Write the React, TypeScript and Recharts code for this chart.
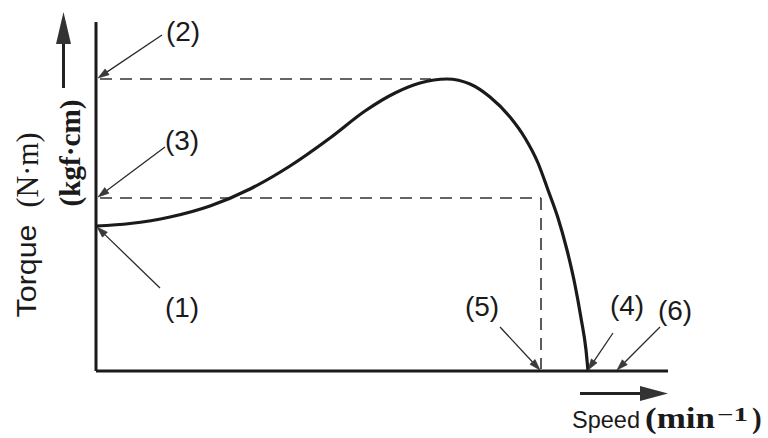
import React from 'react';
import { LineChart, Line, XAxis, YAxis, ReferenceLine, ReferenceDot } from 'recharts';

// Torque–speed curve (arbitrary units)
const speedValues = [0, 34, 74, 114, 154, 194, 234, 269, 299, 324, 351, 374, 394, 414, 429, 442, 452, 462, 471, 479, 485, 490, 492];
const torqueValues = [145, 147.5, 154, 165, 182, 205, 233, 260, 278, 288, 292, 287, 274, 254, 233, 208, 181, 153, 121, 86, 53, 21, 0];

// Characteristic points
const startingTorque = 145; // (1)
const maxTorque = 292; // (2)
const ratedTorque = 173; // (3)
const maxTorqueSpeed = 351;
const ratedSpeed = 445; // (5)
const noLoadSpeed = 492; // (4)
const syncSpeed = 521; // (6)

// Annotation labels
const labelNames = ['(1)', '(2)', '(3)', '(4)', '(5)', '(6)'];
const labelSpeeds = [86, 87, 86, 531, 386, 579];
const labelTorques = [64, 340, 231, 66, 65, 61];

// Leader arrows: start (near label) -> tip (on the curve / axis)
const arrowStartSpeeds = [64, 66, 69, 517, 404, 564];
const arrowStartTorques = [83, 336, 224, 38, 44, 44];
const arrowTipSpeeds = [1, 2, 2, noLoadSpeed, ratedSpeed - 1, syncSpeed];
const arrowTipTorques = [startingTorque - 1, maxTorque + 1, ratedTorque + 1, 1, 1, 1];

const data = speedValues.map((s, i) => ({ speed: s, torque: torqueValues[i] }));

const ArrowShape = (props: any) => {
  const { x1, y1, x2, y2 } = props;
  const dx = x2 - x1;
  const dy = y2 - y1;
  const len = Math.sqrt(dx * dx + dy * dy) || 1;
  const ux = dx / len;
  const uy = dy / len;
  const hl = 11;
  const hw = 3.5;
  const bx = x2 - ux * hl;
  const by = y2 - uy * hl;
  const pts = `${x2},${y2} ${bx - uy * hw},${by + ux * hw} ${bx + uy * hw},${by - ux * hw}`;
  return (
    <g>
      <line x1={x1} y1={y1} x2={bx} y2={by} stroke="#2a2a2a" strokeWidth={1.3} />
      <polygon points={pts} fill="#3a3a3a" stroke="#2a2a2a" strokeWidth={0.6} />
    </g>
  );
};

const makeLabelShape = (text: string) => (props: any) => {
  const { cx, cy } = props;
  return (
    <text
      x={cx}
      y={cy}
      textAnchor="middle"
      dominantBaseline="central"
      fontFamily="'Liberation Sans', Arial, sans-serif"
      fontSize={28}
      fill="#1a1a1a"
    >
      {text}
    </text>
  );
};

const dash = '12 8';

export default function App() {
  return (
    <div style={{ position: 'absolute', left: 0, top: 0, width: 768, height: 438, background: '#ffffff' }}>
      <LineChart
        width={768}
        height={438}
        data={data}
        margin={{ top: 22, right: 100, bottom: 67, left: 96 }}
      >
        <XAxis
          type="number"
          dataKey="speed"
          domain={[0, 572]}
          allowDataOverflow
          height={0}
          tick={false}
          tickLine={false}
          axisLine={false}
        />
        <YAxis
          type="number"
          domain={[0, 349]}
          allowDataOverflow
          width={0}
          tick={false}
          tickLine={false}
          axisLine={false}
        />
        <ReferenceLine x={0} stroke="#1a1a1a" strokeWidth={3} ifOverflow="visible" />
        <ReferenceLine y={0} stroke="#1a1a1a" strokeWidth={3} ifOverflow="visible" />
        <ReferenceLine
          segment={[{ x: 4, y: maxTorque }, { x: maxTorqueSpeed - 16, y: maxTorque }]}
          stroke="#333"
          strokeWidth={1.6}
          strokeDasharray={dash}
          ifOverflow="visible"
        />
        <ReferenceLine
          segment={[{ x: 4, y: ratedTorque }, { x: ratedSpeed, y: ratedTorque }]}
          stroke="#333"
          strokeWidth={1.6}
          strokeDasharray={dash}
          ifOverflow="visible"
        />
        <ReferenceLine
          segment={[{ x: ratedSpeed, y: ratedTorque }, { x: ratedSpeed, y: 2 }]}
          stroke="#333"
          strokeWidth={1.6}
          strokeDasharray={dash}
          ifOverflow="visible"
        />
        <Line
          type="monotone"
          dataKey="torque"
          stroke="#1a1a1a"
          strokeWidth={3.2}
          dot={false}
          isAnimationActive={false}
        />
        {arrowStartSpeeds.map((s, i) => (
          <ReferenceLine
            key={'a' + i}
            segment={[
              { x: s, y: arrowStartTorques[i] },
              { x: arrowTipSpeeds[i], y: arrowTipTorques[i] },
            ]}
            ifOverflow="visible"
            shape={ArrowShape as any}
          />
        ))}
        {labelNames.map((t, i) => (
          <ReferenceDot
            key={'l' + i}
            x={labelSpeeds[i]}
            y={labelTorques[i]}
            r={0}
            ifOverflow="visible"
            shape={makeLabelShape(t) as any}
          />
        ))}
      </LineChart>
      <svg
        width={768}
        height={438}
        style={{ position: 'absolute', left: 0, top: 0, pointerEvents: 'none' }}
      >
        {/* Y axis title */}
        <text
          transform="translate(26,271) rotate(-90)"
          textAnchor="middle"
          dominantBaseline="central"
          fontFamily="'Liberation Sans', Arial, sans-serif"
          fontSize={28}
          fill="#1a1a1a"
          textLength={93}
          lengthAdjust="spacingAndGlyphs"
        >
          Torque
        </text>
        <text
          transform="translate(27,170) rotate(-90)"
          textAnchor="middle"
          dominantBaseline="central"
          fontFamily="'Liberation Serif', 'Times New Roman', serif"
          fontSize={31}
          fill="#1a1a1a"
          textLength={75}
          lengthAdjust="spacingAndGlyphs"
        >
          (N·m)
        </text>
        <text
          transform="translate(69,153) rotate(-90)"
          textAnchor="middle"
          dominantBaseline="central"
          fontFamily="'Liberation Serif', 'Times New Roman', serif"
          fontWeight="bold"
          fontSize={30}
          fill="#1a1a1a"
          textLength={107}
          lengthAdjust="spacingAndGlyphs"
        >
          (kgf·cm)
        </text>
        {/* Up arrow */}
        <line x1={63.5} y1={88} x2={63.5} y2={40} stroke="#222" strokeWidth={3} />
        <polygon points="63.5,12 56,44 71,44" fill="#333" />
        {/* Right arrow */}
        <line x1={580} y1={393.5} x2={645} y2={393.5} stroke="#222" strokeWidth={3} />
        <polygon points="668,393.5 640,386 640,401" fill="#333" />
        {/* X axis title */}
        <text
          x={572}
          y={428}
          fontFamily="'Liberation Sans', Arial, sans-serif"
          fontSize={24}
          fill="#1a1a1a"
          textLength={68}
          lengthAdjust="spacingAndGlyphs"
        >
          Speed
        </text>
        <text
          x={645}
          y={428}
          fontFamily="'Liberation Serif', 'Times New Roman', serif"
          fontWeight="bold"
          fontSize={29}
          fill="#1a1a1a"
          textLength={70}
          lengthAdjust="spacingAndGlyphs"
        >
          (min
        </text>
        <text
          x={717}
          y={421}
          fontFamily="'Liberation Serif', 'Times New Roman', serif"
          fontWeight="bold"
          fontSize={19}
          fill="#1a1a1a"
          textLength={31}
          lengthAdjust="spacingAndGlyphs"
        >
          −1
        </text>
        <text
          x={752}
          y={428}
          fontFamily="'Liberation Serif', 'Times New Roman', serif"
          fontWeight="bold"
          fontSize={29}
          fill="#1a1a1a"
        >
          )
        </text>
      </svg>
    </div>
  );
}
